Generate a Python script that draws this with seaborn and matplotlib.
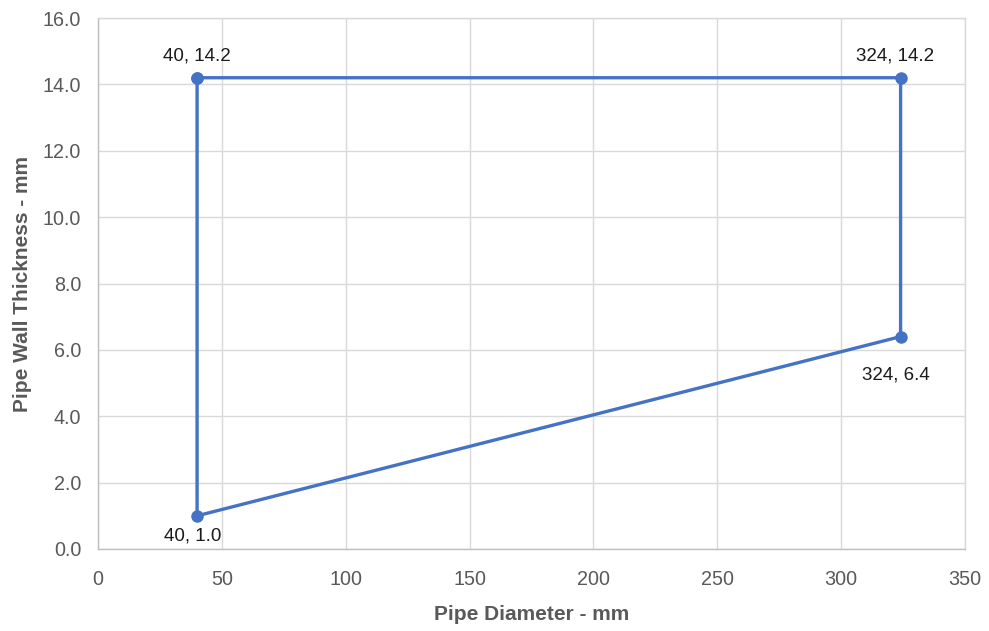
import matplotlib
matplotlib.use("Agg")
import matplotlib.pyplot as plt
import seaborn as sns
import pandas as pd

# Data
diameter = [40, 324, 324, 40, 40]
thickness = [14.2, 14.2, 6.4, 1.0, 14.2]
point_labels = ["40, 14.2", "324, 14.2", "324, 6.4", "40, 1.0"]
label_offsets = [(0, 15.5), (-4, 15.5), (-3.5, -28), (-3.5, -14.5)]

x_ticks = [0, 50, 100, 150, 200, 250, 300, 350]
y_ticks = [0, 2, 4, 6, 8, 10, 12, 14, 16]

sns.set_theme(style="whitegrid")
plt.rcParams['font.family'] = ['Liberation Sans', 'DejaVu Sans']

df = pd.DataFrame({"d": diameter, "t": thickness, "order": range(len(diameter))})

fig = plt.figure(figsize=(9.89, 6.31), dpi=100)
ax = fig.add_axes([98/989, 1-549/631, (965-98)/989, (549-18)/631])

color = "#4472C4"
sns.lineplot(data=df, x="d", y="t", sort=False, ax=ax, color=color,
             linewidth=2.4, marker="o", markersize=9, markeredgewidth=0,
             estimator=None)

for i, lab in enumerate(point_labels):
    ox, oy = label_offsets[i]
    ax.annotate(lab, (diameter[i], thickness[i]), xytext=(ox, oy),
                textcoords="offset points", ha="center", va="center",
                fontsize=13.5, color="#1a1a1a")

ax.set_xlim(0, 350)
ax.set_ylim(0, 16)
ax.set_xticks(x_ticks)
ax.set_yticks(y_ticks)
ax.set_xticklabels([str(v) for v in x_ticks])
ax.set_yticklabels([f"{v:.1f}" for v in y_ticks])
ax.tick_params(axis="both", colors="#595959", labelsize=14.2, length=0)
ax.tick_params(axis="x", pad=15)
ax.tick_params(axis="y", pad=12)

ax.grid(True, color="#d9d9d9", linewidth=1)
for s in ax.spines.values():
    s.set_visible(True)
    s.set_color("#d9d9d9")
    s.set_linewidth(1)
ax.spines["left"].set_color("#bfbfbf")
ax.spines["bottom"].set_color("#bfbfbf")

ax.set_xlabel("Pipe Diameter - mm", fontsize=15, fontweight="bold", color="#595959", labelpad=12)
ax.set_ylabel("Pipe Wall Thickness - mm", fontsize=15, fontweight="bold", color="#595959", labelpad=8)

fig.savefig("out.png", dpi=100, facecolor="white")
